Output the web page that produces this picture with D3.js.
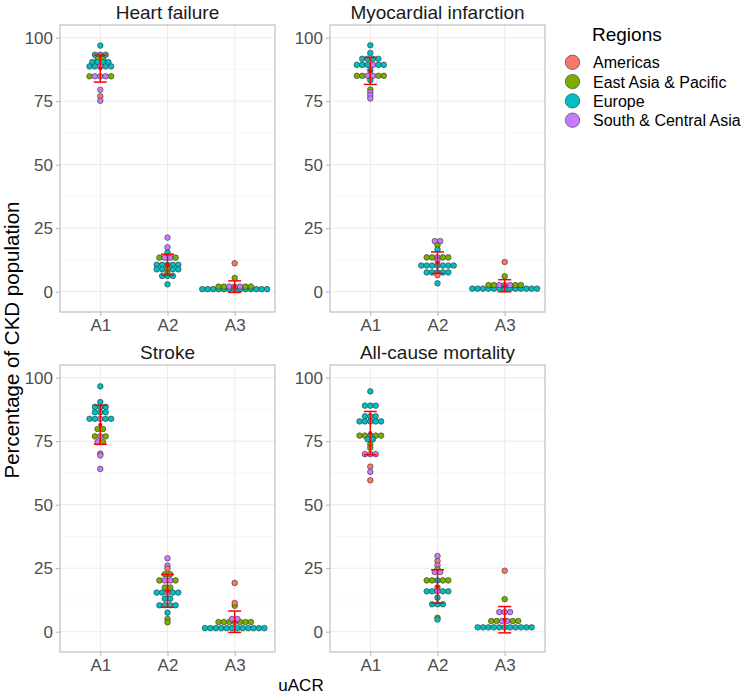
<!DOCTYPE html>
<html><head><meta charset="utf-8">
<script src="https://cdn.jsdelivr.net/npm/d3@7/dist/d3.min.js"></script>
<style>body{margin:0;background:#fff;} text{font-family:"Liberation Sans",Arial,sans-serif;}</style>
</head><body>
<script>
// ---------- data ----------
const regionCodes = ["AM", "EAP", "EU", "SCA"];
const regionNames = ["Americas", "East Asia & Pacific", "Europe", "South & Central Asia"];
const regionColors = ["#F8766D", "#7CAE00", "#00BFC4", "#C77CFF"];
const uacrLevels = ["A1", "A2", "A3"];
const panelTitles = ["Heart failure", "Myocardial infarction", "Stroke", "All-cause mortality"];
const yTickValues = [0, 25, 50, 75, 100];
const yMinorValues = [12.5, 37.5, 62.5, 87.5];
const yLimits = [-8, 105];

// each entry: [uACR level, percentage, regions of the studies at that value (left to right)]
const heartFailure = [
  ["A1", 96.9, "EU"],
  ["A1", 93.3, "EU", "EU", "EU"],
  ["A1", 91.6, "EAP", "EAP"],
  ["A1", 90.4, "EU", "EU", "EU", "EU"],
  ["A1", 88.7, "EU", "EU", "SCA", "EU", "EU"],
  ["A1", 84.8, "EAP", "SCA", "SCA", "SCA", "EAP"],
  ["A1", 79.5, "SCA"],
  ["A1", 76.9, "AM"],
  ["A1", 75.2, "SCA"],
  ["A2", 21.3, "SCA"],
  ["A2", 17.5, "SCA"],
  ["A2", 15.4, "EU"],
  ["A2", 13.4, "EAP", "SCA", "SCA", "EAP"],
  ["A2", 10.6, "EU", "EU", "EU", "EU", "EU"],
  ["A2", 8.8, "EU", "EU", "EAP", "EU", "EU"],
  ["A2", 7.3, "EAP"],
  ["A2", 6.2, "EU", "EU", "EU"],
  ["A2", 2.9, "EU"],
  ["A3", 1.0, "EU", "EU", "EU", "EU", "EU", "EU", "EU", "EU", "EU", "EU", "EU", "EU", "EU"],
  ["A3", 2.0, "EAP", "EAP", "SCA", "SCA", "SCA", "EAP", "EAP"],
  ["A3", 5.4, "EAP"],
  ["A3", 11.2, "AM"]
];
const myocardialInfarction = [
  ["A1", 97.0, "EU"],
  ["A1", 94.0, "EU"],
  ["A1", 91.7, "EU", "EU", "EU", "EU"],
  ["A1", 89.3, "EU", "EU", "EU", "SCA", "EU", "EU"],
  ["A1", 87.2, "EU"],
  ["A1", 85.0, "EAP", "EAP", "SCA", "SCA", "EAP", "EAP"],
  ["A1", 83.3, "EU"],
  ["A1", 79.6, "EAP"],
  ["A1", 78.5, "SCA"],
  ["A1", 77.4, "SCA"],
  ["A1", 76.1, "SCA"],
  ["A2", 19.9, "SCA", "SCA"],
  ["A2", 18.3, "EAP"],
  ["A2", 16.6, "EU"],
  ["A2", 13.5, "EAP", "EAP", "SCA", "EAP", "EAP"],
  ["A2", 12.4, "SCA"],
  ["A2", 10.3, "EU", "EU", "EU", "EU", "EU", "EU", "EU"],
  ["A2", 7.6, "EU", "EU", "EU", "EU", "EU"],
  ["A2", 6.5, "AM"],
  ["A2", 3.3, "EU"],
  ["A3", 1.2, "EU", "EU", "EU", "EU", "EU", "EU", "EU", "EU", "EU", "EU", "EU", "EU", "EU"],
  ["A3", 2.6, "EAP", "EAP", "SCA", "SCA", "SCA", "EAP", "EAP"],
  ["A3", 6.1, "EAP"],
  ["A3", 11.7, "AM"]
];
const stroke = [
  ["A1", 96.6, "EU"],
  ["A1", 90.4, "EU"],
  ["A1", 88.5, "EU", "EU", "EU"],
  ["A1", 86.4, "EU", "EU", "EU"],
  ["A1", 83.8, "EU", "EU", "SCA", "EU", "EU"],
  ["A1", 79.8, "EAP", "EAP"],
  ["A1", 76.9, "EAP", "SCA", "EAP"],
  ["A1", 74.6, "SCA", "EAP"],
  ["A1", 70.1, "AM"],
  ["A1", 69.4, "SCA"],
  ["A1", 64.1, "SCA"],
  ["A2", 28.9, "SCA"],
  ["A2", 26.0, "SCA"],
  ["A2", 24.8, "AM"],
  ["A2", 22.6, "EAP", "EAP"],
  ["A2", 20.2, "EAP", "SCA", "SCA", "EAP"],
  ["A2", 17.4, "EAP", "EAP"],
  ["A2", 15.4, "EU", "EU", "SCA", "EU", "EU"],
  ["A2", 13.0, "EU", "EU"],
  ["A2", 10.4, "EU", "EU", "EU", "EU"],
  ["A2", 7.5, "EU"],
  ["A2", 5.0, "EAP"],
  ["A2", 3.7, "EAP"],
  ["A3", 1.4, "EU", "EU", "EU", "EU", "EU", "EU", "EU", "EU", "EU", "EU", "EU", "EU"],
  ["A3", 3.8, "EAP", "EAP", "EAP", "SCA", "EAP", "EAP", "EAP"],
  ["A3", 5.0, "SCA", "SCA"],
  ["A3", 10.2, "EAP"],
  ["A3", 11.3, "AM"],
  ["A3", 19.2, "AM"]
];
const allCauseMortality = [
  ["A1", 94.6, "EU"],
  ["A1", 89.0, "EU", "EU", "EU"],
  ["A1", 84.8, "EU", "EU", "EU"],
  ["A1", 82.8, "EU", "EU", "EU", "EU", "EU"],
  ["A1", 77.2, "EAP", "EAP", "EU", "EAP", "EAP"],
  ["A1", 75.8, "EU", "EU"],
  ["A1", 73.8, "EAP"],
  ["A1", 72.4, "EAP"],
  ["A1", 69.9, "SCA", "SCA", "SCA"],
  ["A1", 65.0, "AM"],
  ["A1", 62.9, "SCA"],
  ["A1", 59.6, "AM"],
  ["A2", 29.8, "SCA"],
  ["A2", 27.8, "AM"],
  ["A2", 26.1, "SCA"],
  ["A2", 24.6, "EAP"],
  ["A2", 23.5, "SCA", "SCA"],
  ["A2", 20.2, "EAP", "EAP", "EU", "EAP", "EAP"],
  ["A2", 17.4, "AM"],
  ["A2", 15.9, "EU", "EU", "SCA", "EU", "EU"],
  ["A2", 13.4, "EU"],
  ["A2", 10.8, "EU", "EU", "EU"],
  ["A2", 5.5, "EAP"],
  ["A2", 4.8, "EU"],
  ["A3", 1.7, "EU", "EU", "EU", "EU", "EU", "EU", "EU", "EU", "EU", "EU", "EU"],
  ["A3", 4.2, "EAP", "EAP", "SCA", "SCA", "EAP", "EAP"],
  ["A3", 7.7, "SCA", "SCA", "SCA"],
  ["A3", 12.8, "EAP"],
  ["A3", 24.0, "AM"]
];
const panelData = [heartFailure, myocardialInfarction, stroke, allCauseMortality];

// ---------- layout ----------
const W = 747, H = 695;
const panels = [
  {x0: 60, x1: 275, y0: 25, y1: 312},
  {x0: 330, x1: 545, y0: 25, y1: 312},
  {x0: 60, x1: 275, y0: 365, y1: 652},
  {x0: 330, x1: 545, y0: 365, y1: 652}
];
const dotR = 2.8, dotStep = 5.4;
const color = d3.scaleOrdinal().domain(regionCodes).range(regionColors);

const svg = d3.select("body").append("svg").attr("width", W).attr("height", H);

panels.forEach((p, i) => {
  const g = svg.append("g");
  const x = d3.scalePoint().domain(uacrLevels).range([p.x0, p.x1]).padding(0.6);
  const y = d3.scaleLinear().domain(yLimits).range([p.y1, p.y0]);

  // grid
  g.selectAll(".minor").data(yMinorValues).join("line")
    .attr("x1", p.x0).attr("x2", p.x1).attr("y1", d => y(d)).attr("y2", d => y(d))
    .attr("stroke", "#F3F3F3").attr("stroke-width", 0.7);
  g.selectAll(".major").data(yTickValues).join("line")
    .attr("x1", p.x0).attr("x2", p.x1).attr("y1", d => y(d)).attr("y2", d => y(d))
    .attr("stroke", "#EBEBEB").attr("stroke-width", 1);
  g.selectAll(".vmajor").data(uacrLevels).join("line")
    .attr("x1", d => x(d)).attr("x2", d => x(d)).attr("y1", p.y0).attr("y2", p.y1)
    .attr("stroke", "#EBEBEB").attr("stroke-width", 1);

  // axes
  const ay = g.append("g").attr("transform", `translate(${p.x0},0)`)
    .call(d3.axisLeft(y).tickValues(yTickValues).tickSize(4).tickPadding(3));
  const ax = g.append("g").attr("transform", `translate(0,${p.y1})`)
    .call(d3.axisBottom(x).tickSize(4).tickPadding(3));
  [ay, ax].forEach(a => {
    a.select(".domain").remove();
    a.selectAll(".tick line").attr("stroke", "#B3B3B3");
    a.selectAll(".tick text").attr("fill", "#4D4D4D").style("font-size", "17px")
      .style("font-family", "'Liberation Sans', Arial, sans-serif");
  });

  // points
  const pts = [];
  panelData[i].forEach(row => {
    const lvl = row[0], val = row[1], regs = row.slice(2);
    regs.forEach((r, k) => pts.push({lvl, val, reg: r, off: (k - (regs.length - 1) / 2) * dotStep}));
  });
  g.selectAll(".dot").data(pts).join("circle")
    .attr("cx", d => x(d.lvl) + d.off).attr("cy", d => y(d.val)).attr("r", dotR)
    .attr("fill", d => color(d.reg)).attr("stroke", "#333").attr("stroke-width", 0.6);

  // mean ± sd
  const stats = uacrLevels.map(l => {
    const v = pts.filter(d => d.lvl === l).map(d => d.val);
    return {lvl: l, m: d3.mean(v), s: d3.deviation(v)};
  });
  const eb = g.selectAll(".eb").data(stats).join("g");
  eb.append("line").attr("x1", d => x(d.lvl)).attr("x2", d => x(d.lvl))
    .attr("y1", d => y(d.m - d.s)).attr("y2", d => y(d.m + d.s))
    .attr("stroke", "#FF0000").attr("stroke-width", 1.5);
  [-1, 1].forEach(sgn => {
    eb.append("line").attr("x1", d => x(d.lvl) - 6.5).attr("x2", d => x(d.lvl) + 6.5)
      .attr("y1", d => y(d.m + sgn * d.s)).attr("y2", d => y(d.m + sgn * d.s))
      .attr("stroke", "#FF0000").attr("stroke-width", 1.5);
  });
  eb.append("circle").attr("cx", d => x(d.lvl)).attr("cy", d => y(d.m)).attr("r", 2)
    .attr("fill", "#FF0000");

  // border
  g.append("rect").attr("x", p.x0).attr("y", p.y0).attr("width", p.x1 - p.x0).attr("height", p.y1 - p.y0)
    .attr("fill", "none").attr("stroke", "#B3B3B3").attr("stroke-width", 1);

  // title
  g.append("text").attr("x", (p.x0 + p.x1) / 2).attr("y", p.y0 - 6).attr("text-anchor", "middle")
    .style("font-size", "19px").attr("fill", "#1A1A1A").text(panelTitles[i]);
});

// axis titles
svg.append("text").attr("transform", `translate(19,340) rotate(-90)`).attr("text-anchor", "middle")
  .style("font-size", "20.5px").attr("fill", "#000").text("Percentage of CKD population");
svg.append("text").attr("x", 301).attr("y", 691).attr("text-anchor", "middle")
  .style("font-size", "17px").attr("fill", "#000").text("uACR");

// legend
const lg = svg.append("g");
lg.append("text").attr("x", 592).attr("y", 41).style("font-size", "19px").attr("fill", "#000").text("Regions");
const items = lg.selectAll(".li").data(regionCodes).join("g")
  .attr("transform", (d, k) => `translate(0,${62.3 + k * 19.3})`);
items.append("circle").attr("cx", 572.5).attr("cy", 0).attr("r", 7.2)
  .attr("fill", d => color(d)).attr("stroke", "#333").attr("stroke-width", 0.6);
items.append("text").attr("x", 593).attr("y", 6).style("font-size", "16px").attr("fill", "#000")
  .text((d, k) => regionNames[k]);
</script>
</body></html>
